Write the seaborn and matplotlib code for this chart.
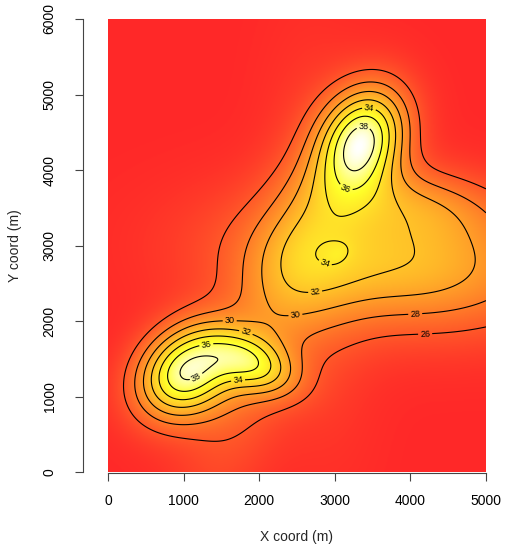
# Interpolated surface (image + contour), R-style axes
import colorsys
import numpy as np
import matplotlib
matplotlib.use('Agg')
import matplotlib.pyplot as plt
from matplotlib.colors import ListedColormap
import seaborn as sns

# surface: background level plus gaussian bumps
base_level = 23.24
bump_x = [1023, 1925, 3367, 2803, 3804, 3987, 2052, 3054]          # m
bump_y = [1324, 1434, 4399, 2928, 2786, 3588, 1752, 2886]          # m
bump_height = [14.30, 7.48, 14.59, 1.94, 8.52, 3.60, 3.59, 0.88]
bump_sx = [493, 434, 514, 477, 1472, 795, 1537, 131]               # m
bump_sy = [389, 253, 381, 1698, 628, 334, 446, 97]                 # m
bump_angle = [41.6, -25.0, 65.1, 2.2, -4.1, -6.7, -110.0, 36.6]    # deg

levels = [26, 28, 30, 32, 34, 36, 38]
label_pos = [(3457, 4853), (3378, 4589), (3160, 3790), (2871, 2765), (2740, 2385),
             (2475, 2120), (4062, 2120), (4195, 1830), (1610, 1992), (1826, 1855),
             (1297, 1709), (1138, 1316), (1720, 1219)]
x_ticks = [0, 1000, 2000, 3000, 4000, 5000]
y_ticks = [0, 1000, 2000, 3000, 4000, 5000, 6000]

# GRID --------------------------------------------------
xs = np.linspace(0, 5000, 501)
ys = np.linspace(0, 6000, 601)
gx, gy = np.meshgrid(xs, ys)
field = np.full(gx.shape, base_level)
for cx, cy, a, sx, sy, th in zip(bump_x, bump_y, bump_height, bump_sx, bump_sy, bump_angle):
    t = np.radians(th)
    u = (gx-cx)*np.cos(t) + (gy-cy)*np.sin(t)
    v = -(gx-cx)*np.sin(t) + (gy-cy)*np.cos(t)
    field += a*np.exp(-0.5*((u/sx)**2 + (v/sy)**2))


# heat.colors like R, a bit washed out
def heat_colors(n):
    j = n//4
    i = n-j
    cols = [colorsys.hsv_to_rgb((1/6)*k/(i-1), 1, 1) for k in range(i)]
    cols += [colorsys.hsv_to_rgb(1/6, s, 1) for s in np.linspace(1-1/(2*j), 1/(2*j), j)]
    cols = np.array(cols)*0.84 + 0.16
    return ListedColormap(cols)


# PLOT --------------------------------------------------
sns.set_theme(style='ticks')
plt.rcParams['font.family'] = ['Liberation Sans', 'DejaVu Sans']

fig = plt.figure(figsize=(5.05, 5.46), dpi=100)
ax = fig.add_axes([108/505, 74/546, 378/505, 453/546])
ax.imshow(field, origin='lower', extent=(0, 5000, 0, 6000), cmap=heat_colors(256),
          vmin=field.min(), vmax=field.max(), interpolation='bilinear', aspect='auto')
cs = ax.contour(gx, gy, field, levels=levels, colors='black', linewidths=0.8)
ax.clabel(cs, fmt='%d', fontsize=6.5, inline=True, inline_spacing=2, manual=label_pos)
ax.set_xlim(0, 5000)
ax.set_ylim(0, 6000)
ax.set_xticks(x_ticks)
ax.set_yticks(y_ticks)
ax.grid(False)

sns.despine(ax=ax, offset={'left': 18, 'bottom': 0.5})
for side in ['left', 'bottom']:
    ax.spines[side].set_color('#444444')
    ax.spines[side].set_linewidth(0.8)
ax.tick_params(axis='both', direction='out', length=6, width=0.8, color='#444444',
               labelsize=10, labelcolor='black')
ax.tick_params(axis='x', pad=9.5)
ax.tick_params(axis='y', pad=13, labelrotation=90)
for lab in ax.get_yticklabels():
    lab.set_va('center')
ax.set_xlabel('X coord (m)', fontsize=10, labelpad=16)
ax.set_ylabel('Y coord (m)', fontsize=10, labelpad=15)

fig.savefig('out.png', dpi=100)
